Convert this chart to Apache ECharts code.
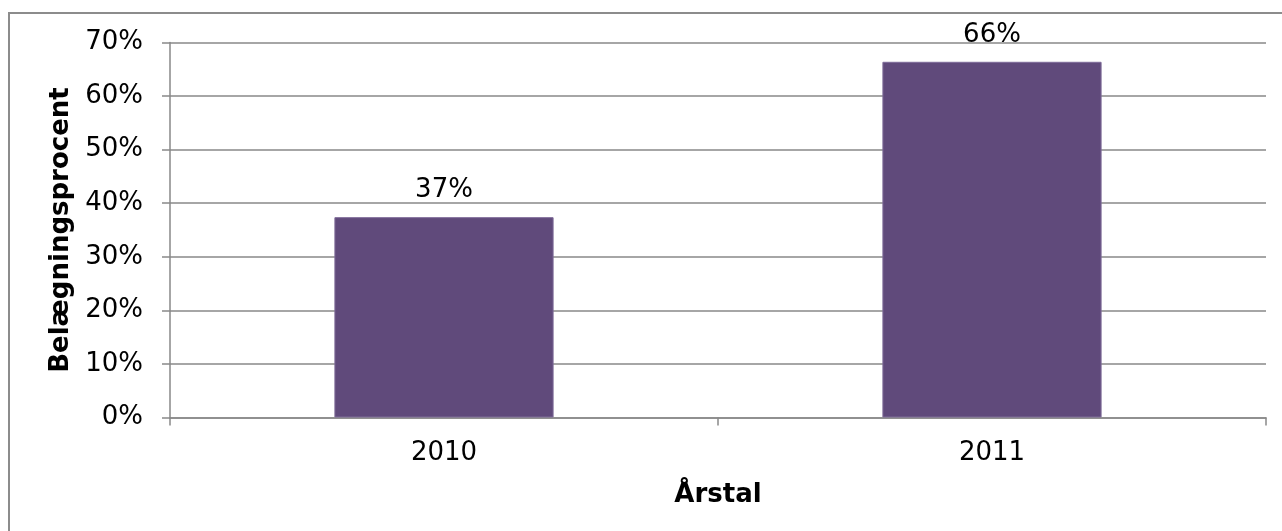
<!DOCTYPE html>
<html>
<head>
<meta charset="utf-8">
<script src="https://cdn.jsdelivr.net/npm/echarts@6/dist/echarts.min.js"></script>
<style>
html,body{margin:0;padding:0;background:#fff;}
#chart{width:1282px;height:531px;}
</style>
</head>
<body>
<div id="chart"></div>
<script>
const categories = ['2010', '2011'];
const values = [37.4, 66.4];
const yTicks = [0, 10, 20, 30, 40, 50, 60, 70];
const xTitle = 'Årstal';
const yTitle = 'Belægningsprocent';

const chart = echarts.init(document.getElementById('chart'));
const font = 'DejaVu Sans, Verdana, sans-serif';
const gray = '#898989';
chart.setOption({
  animation: false,
  graphic: [{
    type: 'rect', silent: true,
    shape: { x: 9, y: 13, width: 1400, height: 700 },
    style: { fill: 'none', stroke: '#8c8c8c', lineWidth: 2 }
  }],
  grid: { left: 170, right: 16, top: 42.5, bottom: 113.5, containLabel: false },
  xAxis: {
    type: 'category',
    data: categories,
    name: xTitle,
    nameLocation: 'middle',
    nameGap: 65,
    nameTextStyle: { fontFamily: font, fontSize: 26, fontWeight: 'bold', color: '#000' },
    axisLine: { lineStyle: { color: gray, width: 1.5 } },
    axisTick: { show: true, alignWithLabel: false, length: 8, lineStyle: { color: gray, width: 1.5 } },
    axisLabel: { fontFamily: font, fontSize: 26, color: '#000', margin: 23 },
    splitLine: { show: false }
  },
  yAxis: {
    type: 'value',
    min: yTicks[0],
    max: yTicks[yTicks.length - 1],
    interval: 10,
    name: yTitle,
    nameLocation: 'middle',
    nameGap: 95,
    nameRotate: 90,
    nameTextStyle: { fontFamily: font, fontSize: 26, fontWeight: 'bold', color: '#000' },
    axisLine: { show: true, lineStyle: { color: gray, width: 1.5 } },
    axisTick: { show: true, length: 8, lineStyle: { color: gray, width: 1.5 } },
    axisLabel: { fontFamily: font, fontSize: 26, color: '#000', margin: 27, formatter: v => v + '%' },
    splitLine: { show: true, lineStyle: { color: gray, width: 1.5 } }
  },
  series: [{
    type: 'bar',
    data: values,
    barWidth: '40%',
    itemStyle: { color: '#604A7B', borderColor: '#7f6c99', borderWidth: 1 },
    label: {
      show: true, position: 'top', distance: 14,
      fontFamily: font, fontSize: 26, color: '#000',
      formatter: p => Math.round(p.value) + '%'
    }
  }]
});
</script>
</body>
</html>
